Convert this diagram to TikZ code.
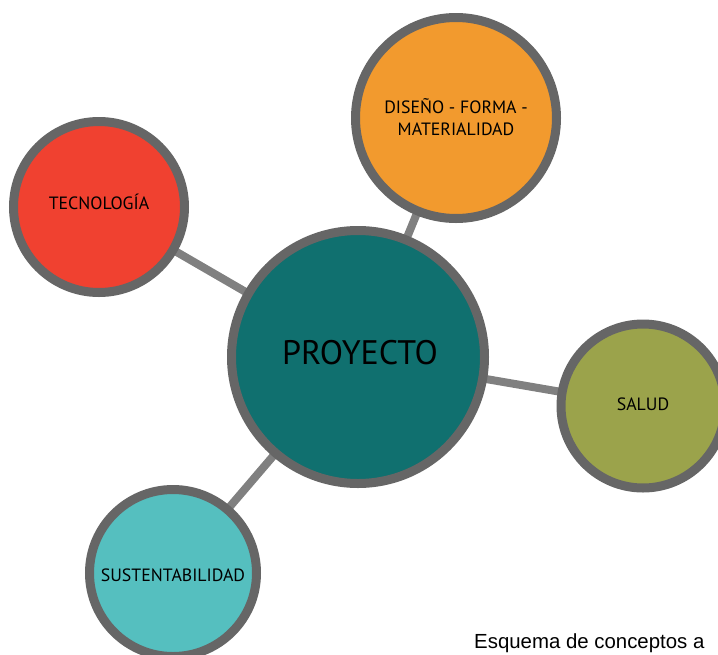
\documentclass[tikz,border=0pt]{standalone}
\usepackage{fontspec}
\setmainfont{PT Sans}
\newfontfamily\capfont{Liberation Sans}
\usetikzlibrary{backgrounds}
\definecolor{cred}{HTML}{F04130}
\definecolor{corange}{HTML}{F29A2E}
\definecolor{cteal}{HTML}{10706F}
\definecolor{colive}{HTML}{9BA34B}
\definecolor{ccyan}{HTML}{55BFBF}
\definecolor{cborder}{HTML}{666666}
\definecolor{cline}{HTML}{808080}
\tikzset{
  bubble/.style={circle, draw=cborder, line width=9pt, inner sep=0pt},
  small/.style={font=\fontsize{17.8}{22}\selectfont, align=center, text=black, inner sep=0pt},
  big/.style={font=\fontsize{34}{40}\selectfont, text=black, inner sep=0pt},
  link/.style={draw=cline, line width=8pt}
}
\begin{document}
\begin{tikzpicture}[x=1pt,y=-1pt]
\useasboundingbox (0,0) rectangle (718,654);
\clip (0,0) rectangle (718,654);
\node[bubble, fill=cteal, minimum size=253pt, label={[big, yshift=4pt, xshift=2pt]center:PROYECTO}] (p) at (358,357) {};
\node[bubble, fill=cred, minimum size=171pt, label={[small, yshift=5.5pt]center:TECNOLOGÍA}] (t) at (99,207) {};
\node[bubble, fill=corange, minimum size=201pt, label={[small, yshift=1pt]center:DISEÑO - FORMA -\\MATERIALIDAD}] (d) at (456,118) {};
\node[bubble, fill=colive, minimum size=164pt, label={[small, yshift=2pt]center:SALUD}] (s) at (643,406) {};
\node[bubble, fill=ccyan, minimum size=167pt, label={[small, yshift=-2.5pt]center:SUSTENTABILIDAD}] (u) at (173,573) {};
\begin{scope}[on background layer]
\draw[link] (p.center) -- (t.center);
\draw[link] (p.center) -- (d.center);
\draw[link] (p.center) -- (s.center);
\draw[link] (p.center) -- (u.center);
\end{scope}
\node[anchor=base west, inner sep=0pt, font=\capfont\fontsize{20.4}{24}\selectfont] (cap) at (474,648.5) {Esquema de conceptos a};
\end{tikzpicture}
\end{document}
